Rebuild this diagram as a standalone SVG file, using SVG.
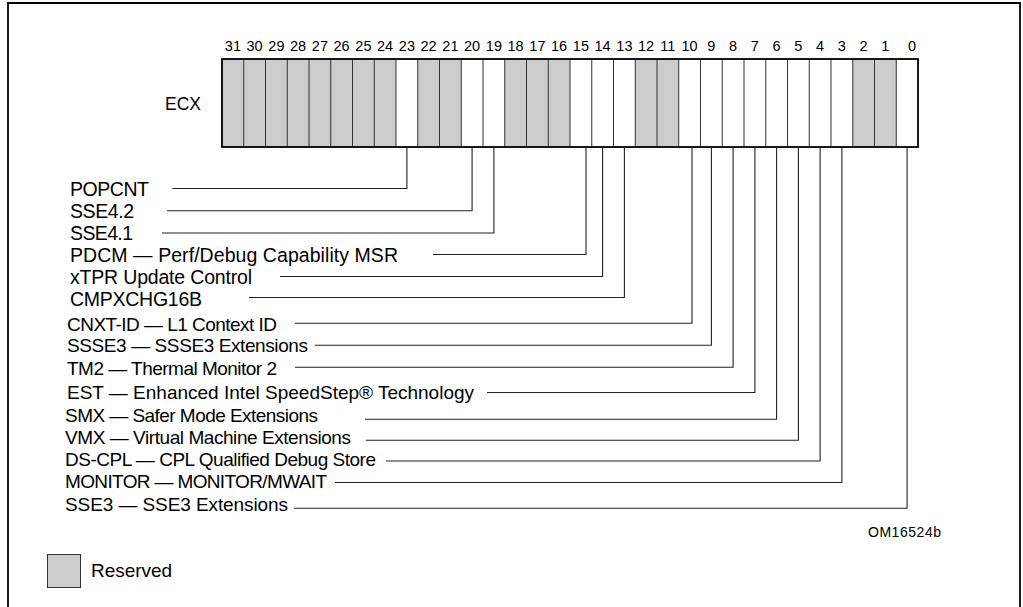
<svg xmlns="http://www.w3.org/2000/svg" width="1023" height="607" viewBox="0 0 1023 607">
<style>
.lbl{font-family:"Liberation Sans",Arial,sans-serif;font-size:19px;fill:#000}
.lbl19{font-family:"Liberation Sans",Arial,sans-serif;font-size:19.5px;fill:#000}
.ecx{font-family:"Liberation Sans",Arial,sans-serif;font-size:17.5px;fill:#000}
.fig{font-family:"Liberation Sans",Arial,sans-serif;font-size:14px;fill:#000}
.num{font-family:"Liberation Sans",Arial,sans-serif;font-size:14.5px;fill:#000;text-anchor:middle}
.res{fill:#cccccc}
.div{stroke:#333;stroke-width:1}
.conn{fill:none;stroke:#222;stroke-width:1.1}
</style>
<rect x="0" y="0" width="1023" height="607" fill="#fff"/>
<path d="M8,612 V3 H1020 V612" fill="none" stroke="#000" stroke-width="1.8"/>
<g id="register">
<text class="ecx" x="165" y="110">ECX</text>
<rect x="222" y="59" width="696" height="88" fill="#fff"/>
<rect class="res" x="222" y="59" width="174" height="88"/>
<rect class="res" x="417.75" y="59" width="43.5" height="88"/>
<rect class="res" x="504.75" y="59" width="65.25" height="88"/>
<rect class="res" x="635.25" y="59" width="43.5" height="88"/>
<rect class="res" x="852.75" y="59" width="43.5" height="88"/>
<g class="div">
<line x1="243.75" y1="59" x2="243.75" y2="147"/><line x1="265.5" y1="59" x2="265.5" y2="147"/><line x1="287.25" y1="59" x2="287.25" y2="147"/><line x1="309" y1="59" x2="309" y2="147"/><line x1="330.75" y1="59" x2="330.75" y2="147"/><line x1="352.5" y1="59" x2="352.5" y2="147"/><line x1="374.25" y1="59" x2="374.25" y2="147"/><line x1="396" y1="59" x2="396" y2="147"/><line x1="417.75" y1="59" x2="417.75" y2="147"/><line x1="439.5" y1="59" x2="439.5" y2="147"/><line x1="461.25" y1="59" x2="461.25" y2="147"/><line x1="483" y1="59" x2="483" y2="147"/><line x1="504.75" y1="59" x2="504.75" y2="147"/><line x1="526.5" y1="59" x2="526.5" y2="147"/><line x1="548.25" y1="59" x2="548.25" y2="147"/><line x1="570" y1="59" x2="570" y2="147"/><line x1="591.75" y1="59" x2="591.75" y2="147"/><line x1="613.5" y1="59" x2="613.5" y2="147"/><line x1="635.25" y1="59" x2="635.25" y2="147"/><line x1="657" y1="59" x2="657" y2="147"/><line x1="678.75" y1="59" x2="678.75" y2="147"/><line x1="700.5" y1="59" x2="700.5" y2="147"/><line x1="722.25" y1="59" x2="722.25" y2="147"/><line x1="744" y1="59" x2="744" y2="147"/><line x1="765.75" y1="59" x2="765.75" y2="147"/><line x1="787.5" y1="59" x2="787.5" y2="147"/><line x1="809.25" y1="59" x2="809.25" y2="147"/><line x1="831" y1="59" x2="831" y2="147"/><line x1="852.75" y1="59" x2="852.75" y2="147"/><line x1="874.5" y1="59" x2="874.5" y2="147"/><line x1="896.25" y1="59" x2="896.25" y2="147"/>
</g>
<rect x="222" y="59" width="696" height="88" fill="none" stroke="#000" stroke-width="1.8"/>
<g class="num">
<text x="232.9" y="51">31</text><text x="254.6" y="51">30</text><text x="276.4" y="51">29</text><text x="298.1" y="51">28</text><text x="319.9" y="51">27</text><text x="341.6" y="51">26</text><text x="363.4" y="51">25</text><text x="385.1" y="51">24</text><text x="406.9" y="51">23</text><text x="428.6" y="51">22</text><text x="450.4" y="51">21</text><text x="472.1" y="51">20</text><text x="493.9" y="51">19</text><text x="515.6" y="51">18</text><text x="537.4" y="51">17</text><text x="559.1" y="51">16</text><text x="580.9" y="51">15</text><text x="602.6" y="51">14</text><text x="624.4" y="51">13</text><text x="646.1" y="51">12</text><text x="667.9" y="51">11</text><text x="689.6" y="51">10</text><text x="711.4" y="51">9</text><text x="733.1" y="51">8</text><text x="754.9" y="51">7</text><text x="776.6" y="51">6</text><text x="798.4" y="51">5</text><text x="820.1" y="51">4</text><text x="841.9" y="51">3</text><text x="863.6" y="51">2</text><text x="885.4" y="51">1</text><text x="912" y="51">0</text>
</g>
</g>
<g id="connectors" class="conn">
<path d="M406.9,147 V188.5 H172.5"/>
<path d="M472.1,147 V210.7 H167"/>
<path d="M493.9,147 V233 H162"/>
<path d="M586,147 V254.5 H433"/>
<path d="M602.6,147 V276.5 H280"/>
<path d="M624.4,147 V297.5 H249"/>
<path d="M692,147 V323.3 H295"/>
<path d="M711.4,147 V345.2 H315"/>
<path d="M733.1,147 V367.3 H295"/>
<path d="M754.9,147 V392.5 H487"/>
<path d="M776.6,147 V419.2 H365"/>
<path d="M798.4,147 V440.2 H366"/>
<path d="M820.1,147 V461 H386"/>
<path d="M841.9,147 V482.5 H335"/>
<path d="M907.1,147 V508.3 H294"/>
</g>
<g id="bit23"><text class="lbl19" x="70" y="195.5" textLength="79">POPCNT</text></g>
<g id="bit20"><text class="lbl19" x="70" y="218" textLength="64">SSE4.2</text></g>
<g id="bit19"><text class="lbl19" x="70" y="240" textLength="63">SSE4.1</text></g>
<g id="bit15"><text class="lbl19" x="70" y="262" textLength="328">PDCM — Perf/Debug Capability MSR</text></g>
<g id="bit14"><text class="lbl19" x="70" y="284" textLength="182">xTPR Update Control</text></g>
<g id="bit13"><text class="lbl19" x="70" y="306" textLength="132">CMPXCHG16B</text></g>
<g id="bit10"><text class="lbl" x="67" y="330.5" textLength="210">CNXT-ID — L1 Context ID</text></g>
<g id="bit9"><text class="lbl" x="67" y="352" textLength="241">SSSE3 — SSSE3 Extensions</text></g>
<g id="bit8"><text class="lbl" x="67" y="375" textLength="210">TM2 — Thermal Monitor 2</text></g>
<g id="bit7"><text class="lbl" x="67" y="398.5" textLength="407">EST — Enhanced Intel SpeedStep® Technology</text></g>
<g id="bit6"><text class="lbl" x="65" y="422" textLength="253">SMX — Safer Mode Extensions</text></g>
<g id="bit5"><text class="lbl" x="65" y="443.5" textLength="286">VMX — Virtual Machine Extensions</text></g>
<g id="bit4"><text class="lbl" x="65" y="466" textLength="311">DS-CPL — CPL Qualified Debug Store</text></g>
<g id="bit3"><text class="lbl" x="65" y="488" textLength="262">MONITOR — MONITOR/MWAIT</text></g>
<g id="bit0"><text class="lbl" x="65" y="510.5" textLength="223">SSE3 — SSE3 Extensions</text></g>
<g id="legend">
<rect class="res" x="47.5" y="554.5" width="33" height="33" stroke="#333" stroke-width="1"/>
<text class="lbl" x="91" y="577" textLength="81">Reserved</text>
</g>
<g id="figid"><text class="fig" x="868" y="537" textLength="73">OM16524b</text></g>
</svg>
